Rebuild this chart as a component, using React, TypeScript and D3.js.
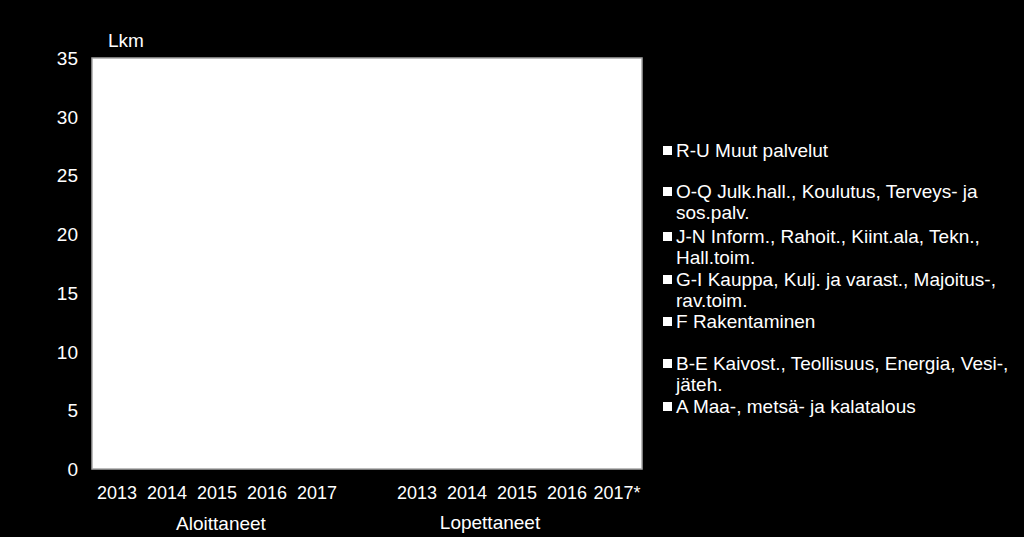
import * as d3 from 'd3'

const width = 1024
const height = 537
const margin = { top: 58, right: 382, bottom: 68, left: 92 }

// 11 slots: two groups of five years with an empty slot between them
const slots = ['a2013', 'a2014', 'a2015', 'a2016', 'a2017', 'gap', 'l2013', 'l2014', 'l2015', 'l2016', 'l2017']
const yearLabels = ['2013', '2014', '2015', '2016', '2017', '', '2013', '2014', '2015', '2016', '2017*']
const yTicks = [0, 5, 10, 15, 20, 25, 30, 35]

// series (bottom to top) – the bars are drawn white on white in the original
const seriesNames = [
  'A Maa-, metsä- ja kalatalous',
  'B-E Kaivost., Teollisuus, Energia, Vesi-, jäteh.',
  'F Rakentaminen',
  'G-I Kauppa, Kulj. ja varast., Majoitus-, rav.toim.',
  'J-N Inform., Rahoit., Kiint.ala, Tekn., Hall.toim.',
  'O-Q Julk.hall., Koulutus, Terveys- ja sos.palv.',
  'R-U Muut palvelut',
]
const aValues = [2, 1, 2, 1, 1, 0, 1, 2, 1, 1, 1]
const beValues = [2, 3, 2, 2, 3, 0, 2, 2, 3, 2, 2]
const fValues = [3, 2, 3, 3, 2, 0, 2, 3, 2, 2, 3]
const giValues = [6, 5, 6, 5, 6, 0, 5, 6, 5, 5, 4]
const jnValues = [5, 6, 5, 6, 5, 0, 4, 4, 5, 4, 4]
const oqValues = [1, 1, 2, 1, 1, 0, 1, 1, 1, 1, 1]
const ruValues = [2, 2, 1, 2, 2, 0, 1, 1, 2, 1, 1]

// legend rows, top to bottom, as wrapped in the original
const legendRows = [
  { lines: ['R-U Muut palvelut'], y: 150 },
  { lines: ['O-Q Julk.hall., Koulutus, Terveys- ja', 'sos.palv.'], y: 191 },
  { lines: ['J-N Inform., Rahoit., Kiint.ala, Tekn.,', 'Hall.toim.'], y: 236 },
  { lines: ['G-I Kauppa, Kulj. ja varast., Majoitus-,', 'rav.toim.'], y: 279 },
  { lines: ['F Rakentaminen'], y: 321 },
  { lines: ['B-E Kaivost., Teollisuus, Energia, Vesi-,', 'jäteh.'], y: 363 },
  { lines: ['A Maa-, metsä- ja kalatalous'], y: 406 },
]

const font = '"Liberation Sans", Arial, sans-serif'

const App = () => {
  const rows = slots.map((s, i) => ({
    slot: s,
    a: aValues[i],
    be: beValues[i],
    f: fValues[i],
    gi: giValues[i],
    jn: jnValues[i],
    oq: oqValues[i],
    ru: ruValues[i],
  }))
  const keys = ['a', 'be', 'f', 'gi', 'jn', 'oq', 'ru']
  const stacked = d3.stack<any>().keys(keys)(rows)

  const xScale = d3
    .scaleBand()
    .domain(slots)
    .range([margin.left, width - margin.right])
    .paddingInner(0.5)
    .paddingOuter(0.25)

  const yScale = d3
    .scaleLinear()
    .domain([0, 35])
    .range([height - margin.bottom, margin.top])

  const x0 = margin.left
  const x1 = width - margin.right
  const yBottom = yScale(0)
  const yTop = yScale(35)
  const center = (s: string) => (xScale(s) as number) + xScale.bandwidth() / 2

  return (
    <svg
      width={width}
      height={height}
      style={{ position: 'absolute', left: 0, top: 0, background: '#000' }}
    >
      <rect x={0} y={0} width={width} height={height} fill="#000" />
      <rect x={x0} y={yTop} width={x1 - x0} height={yBottom - yTop} fill="#fff" />

      {stacked.map((layer, li) => (
        <g key={li} fill="#fff">
          {layer.map((d, i) =>
            slots[i] === 'gap' ? null : (
              <rect
                key={i}
                x={xScale(slots[i])}
                y={yScale(d[1])}
                width={xScale.bandwidth()}
                height={yScale(d[0]) - yScale(d[1])}
              />
            )
          )}
        </g>
      ))}

      <rect
        x={x0}
        y={yTop}
        width={x1 - x0}
        height={yBottom - yTop}
        fill="none"
        stroke="#a6a6a6"
        strokeWidth={1.5}
      />

      {yTicks.map(t => (
        <text
          key={t}
          x={78}
          y={yScale(t) + 7}
          textAnchor="end"
          fill="#fff"
          fontFamily={font}
          fontSize={19}
        >
          {t}
        </text>
      ))}

      <text x={108} y={47} fill="#fff" fontFamily={font} fontSize={19}>
        Lkm
      </text>

      {slots.map((s, i) =>
        yearLabels[i] ? (
          <text
            key={s}
            x={center(s)}
            y={499}
            textAnchor="middle"
            fill="#fff"
            fontFamily={font}
            fontSize={18}
          >
            {yearLabels[i]}
          </text>
        ) : null
      )}

      <text
        x={center('a2015') + 4}
        y={530}
        textAnchor="middle"
        fill="#fff"
        fontFamily={font}
        fontSize={19}
      >
        Aloittaneet
      </text>
      <text
        x={(center('l2014') + center('l2015')) / 2 - 2}
        y={529}
        textAnchor="middle"
        fill="#fff"
        fontFamily={font}
        fontSize={19}
      >
        Lopettaneet
      </text>

      {legendRows.map((r, i) => (
        <g key={i}>
          <rect x={663} y={r.y - 4} width={9} height={9} fill="#fff" />
          {r.lines.map((line, j) => (
            <text
              key={j}
              x={676}
              y={r.y + 7 + j * 21}
              fill="#fff"
              fontFamily={font}
              fontSize={19}
            >
              {line}
            </text>
          ))}
        </g>
      ))}
    </svg>
  )
}

export default App
